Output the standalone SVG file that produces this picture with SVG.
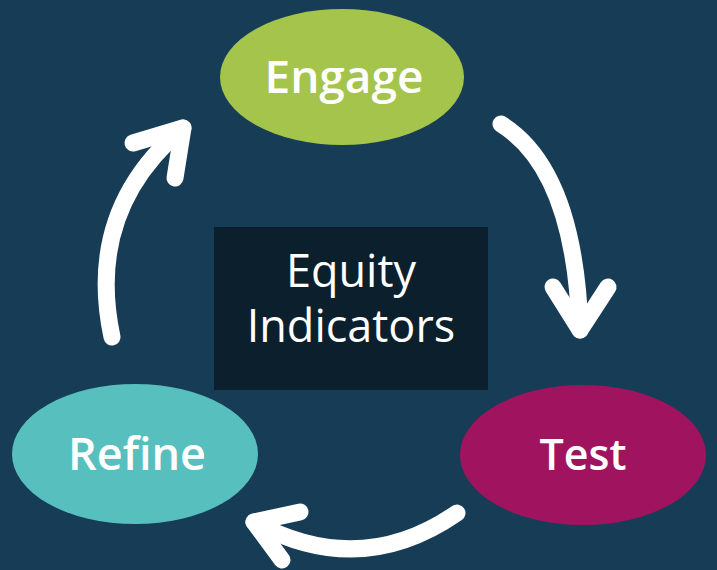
<svg xmlns="http://www.w3.org/2000/svg" width="717" height="570" viewBox="0 0 717 570">
<style>
.lbl{font-family:"Open Sans","Noto Sans",sans-serif;font-weight:600;fill:#fff;text-anchor:middle}
.ctr{font-family:"Open Sans","Noto Sans",sans-serif;font-weight:500;fill:#fff;text-anchor:middle;font-size:45px}
.arr{fill:none;stroke:#fff;stroke-width:17;stroke-linecap:round;stroke-linejoin:round}
</style>
<rect width="717" height="570" fill="#163d55"/>
<g id="center">
<rect x="214" y="227" width="274" height="163" fill="#0c1f2c"/>
<text class="ctr" x="351" y="287">Equity</text>
<text class="ctr" x="351" y="342">Indicators</text>
</g>
<g id="engage">
<ellipse cx="342" cy="77" rx="122" ry="68" fill="#a4c44b"/>
<text class="lbl" x="344" y="93" font-size="46">Engage</text>
</g>
<g id="test">
<ellipse cx="583" cy="455" rx="123" ry="70" fill="#a0145f"/>
<text class="lbl" x="583" y="470" font-size="43">Test</text>
</g>
<g id="refine">
<ellipse cx="135" cy="454" rx="123" ry="70" fill="#57bfbd"/>
<text class="lbl" x="137" y="470" font-size="45">Refine</text>
</g>
<g id="connectors">
<path class="arr" d="M501 124 Q575 170 580 330"/>
<path class="arr" d="M553 287 L580 330 L608 287"/>
<path class="arr" d="M457 513 Q360 580 254 522"/>
<path class="arr" d="M300 512 L254 522 L282 560"/>
<path class="arr" d="M112 337 Q85 210 183 128"/>
<path class="arr" d="M133 143 L183 128 L175 178"/>
</g>
</svg>
